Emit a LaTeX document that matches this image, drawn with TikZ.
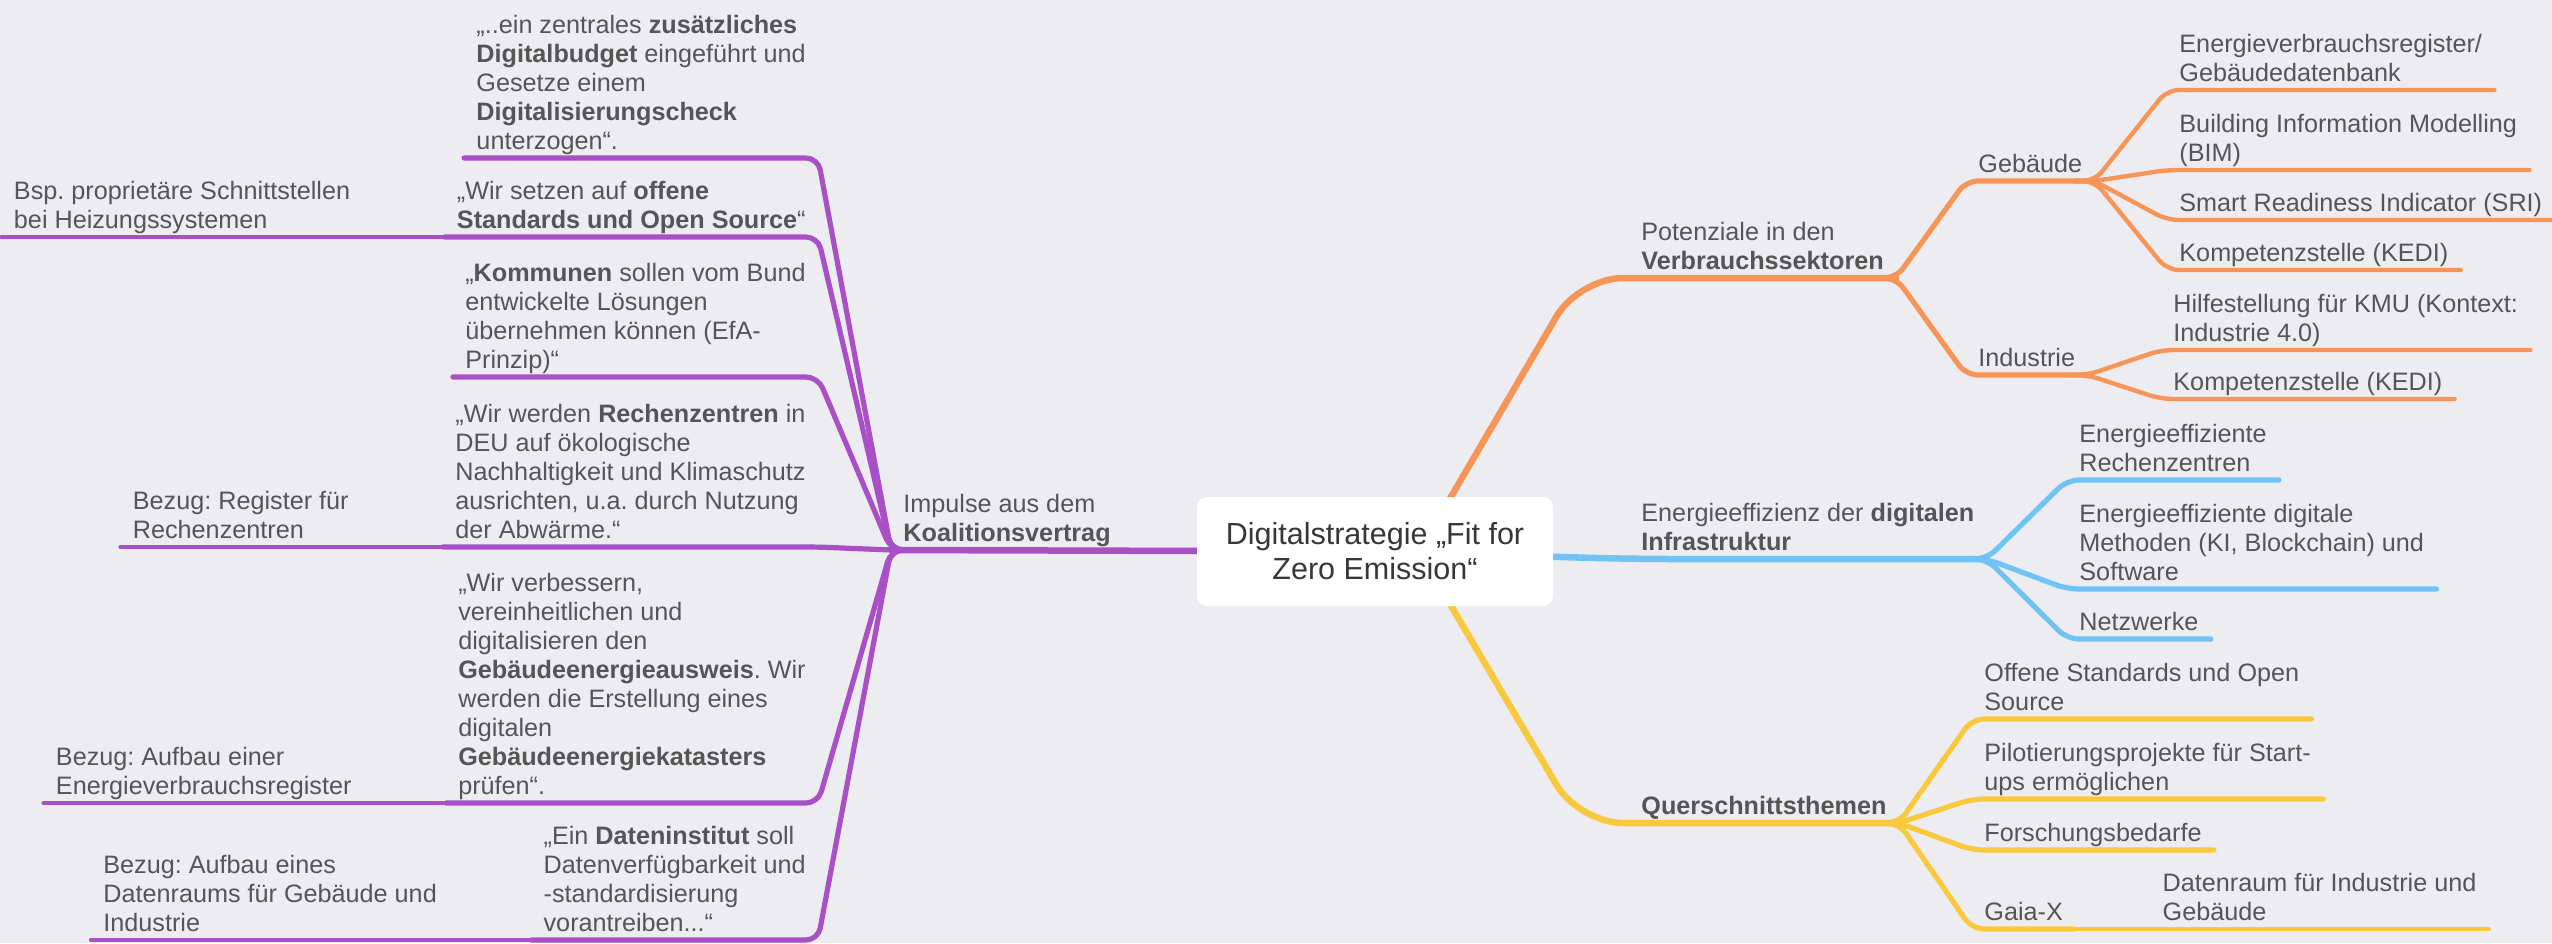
\documentclass[tikz,border=0pt]{standalone}
\usepackage{fontspec}
\setmainfont{Liberation Sans}
\frenchspacing
\usetikzlibrary{calc}
\definecolor{bgmap}{RGB}{237,237,241}
\definecolor{txt}{RGB}{85,85,85}
\definecolor{rootxt}{RGB}{55,55,55}
\definecolor{lila}{RGB}{170,80,198}
\definecolor{orng}{RGB}{247,148,88}
\definecolor{hblau}{RGB}{112,195,246}
\definecolor{gelb}{RGB}{249,201,61}
\pgfdeclarelayer{bg}
\pgfsetlayers{bg,main}

\begin{document}
\begin{tikzpicture}[x=0.5pt,y=-0.5pt,
  every node/.style={text=txt,font=\fontsize{12.6}{14.5}\selectfont},
  topic/.style={anchor=south west,align=left,inner xsep=6pt,inner ysep=0pt,execute at end node={\rule[-4.2pt]{0pt}{4.2pt}}},
  lquote/.style={topic,anchor=south east},
  ast/.style={line width=3.25pt,line cap=round,rounded corners=22pt},
  zweig/.style={line width=2.6pt,line cap=round,rounded corners=6pt},
  blatt/.style={line width=2.2pt,line cap=round,rounded corners=6pt}]
\useasboundingbox (0,0) rectangle (2552,943);
\node[fill=white,rounded corners=5pt,minimum width=178pt,minimum height=54.5pt,align=center,text=rootxt,font=\fontsize{15.25}{17.5}\selectfont] (root) at (1375,551.5) {Digitalstrategie „Fit for\\Zero Emission“};
\node[topic] (pot) at (1629,278) {Potenziale in den\\\textbf{Verbrauchssektoren}};
\node[topic] (eff) at (1629,559) {Energieeffizienz der \textbf{digitalen}\\\textbf{Infrastruktur}};
\node[topic] (quer) at (1629,823) {\textbf{Querschnittsthemen}};
\node[topic] (koal) at (891,550) {Impulse aus dem\\\textbf{Koalitionsvertrag}};
\node[topic] (geb) at (1966,181) {Gebäude};
\node[topic] (ind) at (1966,375) {Industrie};
\node[topic] (evr) at (2167,90) {Energieverbrauchsregister/\\Gebäudedatenbank};
\node[topic] (bim) at (2167,170) {Building Information Modelling\\(BIM)};
\node[topic] (sri) at (2167,220) {Smart Readiness Indicator (SRI)};
\node[topic] (kedia) at (2167,270) {Kompetenzstelle (KEDI)};
\node[topic] (kmu) at (2161,350) {Hilfestellung für KMU (Kontext:\\Industrie 4.0)};
\node[topic] (kedib) at (2161,399) {Kompetenzstelle (KEDI)};
\node[topic] (rz) at (2067,480) {Energieeffiziente\\Rechenzentren};
\node[topic] (meth) at (2067,589) {Energieeffiziente digitale\\Methoden (KI, Blockchain) und\\Software};
\node[topic] (netz) at (2067,639) {Netzwerke};
\node[topic] (open) at (1972,719) {Offene Standards und Open\\Source};
\node[topic] (pilot) at (1972,799) {Pilotierungsprojekte für Start-\\ups ermöglichen};
\node[topic] (forsch) at (1972,850) {Forschungsbedarfe};
\node[topic] (gaia) at (1972,929) {Gaia-X};
\node[topic] (draum) at ($(gaia.south east)+(75,0)$) {Datenraum für Industrie und\\Gebäude};
\node[lquote] (budget) at (818,158) {„..ein zentrales \textbf{zusätzliches}\\\textbf{Digitalbudget} eingeführt und\\Gesetze einem\\\textbf{Digitalisierungscheck}\\unterzogen“.};
\node[lquote] (offen) at (818,237) {„Wir setzen auf \textbf{offene}\\\textbf{Standards und Open Source}“};
\node[lquote] (kommun) at (818,377) {„\textbf{Kommunen} sollen vom Bund\\entwickelte Lösungen\\übernehmen können (EfA-\\Prinzip)“};
\node[lquote] (rechen) at (818,547) {„Wir werden \textbf{Rechenzentren} in\\DEU auf ökologische\\Nachhaltigkeit und Klimaschutz\\ausrichten, u.a. durch Nutzung\\der Abwärme.“};
\node[lquote] (ausweis) at (818,803) {„Wir verbessern,\\vereinheitlichen und\\digitalisieren den\\\textbf{Gebäudeenergieausweis}. Wir\\werden die Erstellung eines\\digitalen\\\textbf{Gebäudeenergiekatasters}\\prüfen“.};
\node[lquote] (datinst) at (818,940) {„Ein \textbf{Dateninstitut} soll\\Datenverfügbarkeit und\\-standardisierung\\vorantreiben...“};
\node[lquote] (bsp) at ($(offen.south west)+(-82,0)$) {Bsp. proprietäre Schnittstellen\\bei Heizungssystemen};
\node[lquote] (regrz) at ($(rechen.south west)+(-82,0)$) {Bezug: Register für\\Rechenzentren};
\node[lquote] (regev) at ($(ausweis.south west)+(-82,0)$) {Bezug: Aufbau einer\\Energieverbrauchsregister};
\node[lquote] (draumb) at ($(datinst.south west)+(-82,0)$) {Bezug: Aufbau eines\\Datenraums für Gebäude und\\Industrie};
\begin{pgfonlayer}{bg}
\fill[bgmap] (0,0) rectangle (2552,943);
\draw[ast,orng] ($(root.center)+(44,0)$) -- ($(pot.south west)+(-50,0)$) -- (pot.south east);
\draw[ast,gelb] ($(root.center)+(44,0)$) -- ($(quer.south west)+(-50,0)$) -- (quer.south east);
\draw[ast,hblau] (root.center) -- (eff.south west) -- (eff.south east);
\draw[ast,lila] (root.center) -- (koal.south west);
\foreach \k in {geb,ind}
  \draw[zweig,orng] ($(pot.south east)+(-20,0)$) -- (pot.south east) -- (\k.south west) -- (\k.south east);
\foreach \k in {evr,bim,sri,kedia}
  \draw[blatt,orng] ($(geb.south east)+(-20,0)$) -- (geb.south east) -- (\k.south west) -- (\k.south east);
\foreach \k in {kmu,kedib}
  \draw[blatt,orng] ($(ind.south east)+(-20,0)$) -- (ind.south east) -- (\k.south west) -- (\k.south east);
\foreach \k in {rz,meth,netz}
  \draw[zweig,hblau] ($(eff.south east)+(-20,0)$) -- (eff.south east) -- (\k.south west) -- (\k.south east);
\foreach \k in {open,pilot,forsch,gaia}
  \draw[zweig,gelb] ($(quer.south east)+(-20,0)$) -- (quer.south east) -- (\k.south west) -- (\k.south east);
\draw[blatt,gelb] (gaia.south east) -- (draum.south east);
\foreach \k in {budget,offen,kommun,rechen,ausweis,datinst}
  \draw[zweig,lila] ($(koal.south west)+(20,0)$) -- (koal.south west) -- (\k.south east) -- (\k.south west);
\draw[blatt,lila] (offen.south west) -- (bsp.south west);
\draw[blatt,lila] (rechen.south west) -- (regrz.south west);
\draw[blatt,lila] (ausweis.south west) -- (regev.south west);
\draw[blatt,lila] (datinst.south west) -- (draumb.south west);
\end{pgfonlayer}
\end{tikzpicture}
\end{document}
